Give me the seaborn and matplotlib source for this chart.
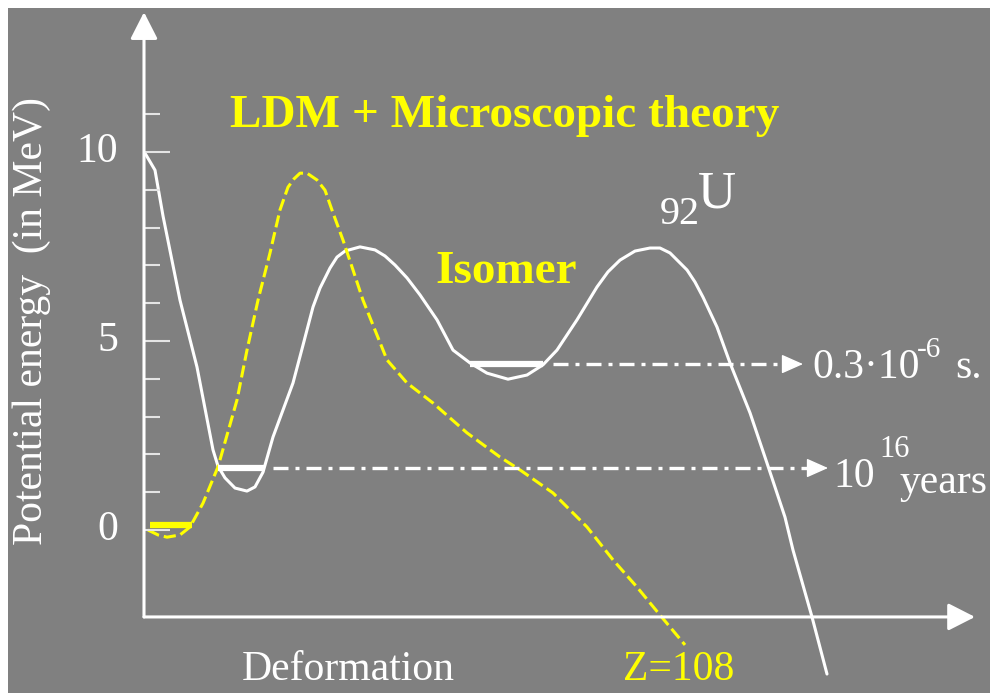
import matplotlib
matplotlib.use('Agg')
import pandas as pd
import matplotlib.pyplot as plt
import seaborn as sns

BG = '#808080'
YELLOW = '#ffff00'
WHITE = '#ffffff'
TICK_GREY = '#e4e4e4'

# 92U fission barrier: deformation (arb. units) vs potential energy (MeV)
u92_x = [0.01, 0.11, 0.19, 0.36, 0.53, 0.69, 0.74, 0.81, 0.91, 1.03, 1.11, 1.19,
         1.29, 1.49, 1.59, 1.69, 1.76, 1.86, 1.93, 2.01, 2.16, 2.31, 2.41, 2.51,
         2.63, 2.76, 2.93, 3.09, 3.26, 3.43, 3.64, 3.83, 3.99, 4.13, 4.33, 4.53,
         4.64, 4.76, 4.91, 5.06, 5.16, 5.26, 5.43, 5.51, 5.59, 5.73, 5.86, 6.06,
         6.23, 6.41, 6.49, 6.68, 6.83]
u92_y = [9.97, 9.52, 8.31, 6.08, 4.31, 2.12, 1.69, 1.38, 1.11, 1.03, 1.14, 1.53,
         2.46, 3.89, 4.89, 5.90, 6.40, 6.93, 7.22, 7.38, 7.49, 7.41, 7.25, 7.01,
         6.67, 6.22, 5.56, 4.76, 4.42, 4.15, 3.99, 4.10, 4.37, 4.76, 5.56, 6.43,
         6.83, 7.14, 7.38, 7.46, 7.46, 7.33, 6.88, 6.56, 6.16, 5.37, 4.42, 3.10,
         1.77, 0.34, -0.53, -2.30, -3.81]

# Z=108 (LDM + microscopic theory)
z108_x = [0.04, 0.14, 0.23, 0.36, 0.46, 0.59, 0.74, 0.93, 1.03, 1.14, 1.26, 1.36,
          1.44, 1.50, 1.56, 1.63, 1.73, 1.81, 1.89, 1.99, 2.09, 2.19, 2.43, 2.63,
          2.89, 3.23, 3.56, 3.76, 4.09, 4.43, 4.69, 4.93, 5.16, 5.41]
z108_y = [0.00, -0.13, -0.19, -0.13, 0.08, 0.71, 1.67, 3.44, 4.76, 6.08, 7.33, 8.47,
          9.07, 9.29, 9.44, 9.44, 9.26, 8.99, 8.39, 7.67, 6.88, 6.08, 4.50, 3.89,
          3.36, 2.57, 1.93, 1.59, 0.98, 0.08, -0.79, -1.51, -2.25, -3.04]

# energy axis ticks
energy_ticks = list(range(0, 12))
energy_major = [0, 5, 10]

# states: energy and horizontal extent
u_ground_e, u_ground_x = 1.64, [0.74, 1.21]
isomer_e, isomer_x = 4.39, [3.26, 3.99]
z_ground_e, z_ground_x = 0.13, [0.06, 0.48]

# half-life arrows (start, tip)
isomer_arrow = [4.09, 6.59]
ground_arrow = [1.29, 6.84]

AXIS_Y0 = -2.30
X_TIP = 8.31
Y_TIP = 13.70

sns.set_theme(style="white")
plt.rcParams['font.family'] = ['Liberation Serif', 'DejaVu Serif']

fig = plt.figure(figsize=(9.9, 6.93), dpi=100, facecolor='white')
ax = fig.add_axes([8 / 990, 0, 982 / 990, 685 / 693])
ax.set_facecolor(BG)
ax.set_xlim(-1.36, 8.46)
ax.set_ylim(-4.312, 13.81)
ax.set_xticks([])
ax.set_yticks([])
for s in ax.spines.values():
    s.set_visible(False)

u_df = pd.DataFrame({'deformation': u92_x, 'energy': u92_y})
z_df = pd.DataFrame({'deformation': z108_x, 'energy': z108_y})

sns.lineplot(data=u_df, x='deformation', y='energy', sort=False, estimator=None,
             color=WHITE, lw=2.2, ax=ax)
sns.lineplot(data=z_df, x='deformation', y='energy', sort=False, estimator=None,
             color=YELLOW, lw=2.2, linestyle=(0, (4, 1.6)), ax=ax)

# levels
ax.hlines(u_ground_e, *u_ground_x, color=WHITE, lw=4.5, zorder=4)
ax.hlines(isomer_e, *isomer_x, color=WHITE, lw=4.5, zorder=4)
ax.hlines(z_ground_e, *z_ground_x, color=YELLOW, lw=4.5, zorder=4)

# dash-dot lifetimes with arrow heads
head = dict(arrowstyle='-|>,head_length=0.45,head_width=0.2', color=WHITE,
            lw=1, mutation_scale=30, shrinkA=0, shrinkB=0)
for e, (x0, x1) in [(isomer_e, isomer_arrow), (u_ground_e, ground_arrow)]:
    ax.plot([x0, x1 - 0.15], [e, e], color=WHITE, lw=2.4,
            linestyle=(0, (4.5, 2.1, 1.2, 2.1)), zorder=3)
    ax.annotate('', xy=(x1, e), xytext=(x1 - 0.2, e), arrowprops=head, zorder=5)

# energy axis ticks (drawn inward)
for t in energy_ticks:
    length = 0.26 if t in energy_major else 0.16
    ax.plot([0, length], [t, t], color=TICK_GREY, lw=1.5, zorder=2,
            solid_capstyle='butt')
for t in energy_major:
    ax.text(-0.26, t, str(t), color=WHITE, fontsize=30, ha='right', va='center')

# axes with arrows
axis_arrow = dict(arrowstyle='-|>,head_length=0.55,head_width=0.28', color=WHITE,
                  lw=2.2, mutation_scale=30, shrinkA=0, shrinkB=0)
ax.annotate('', xy=(X_TIP, AXIS_Y0), xytext=(0, AXIS_Y0), arrowprops=axis_arrow)
ax.annotate('', xy=(0, Y_TIP), xytext=(0, AXIS_Y0), arrowprops=axis_arrow)

# labels
ax.text(-1.12, 5.53, 'Potential energy  (in MeV)', color=WHITE, fontsize=30,
        rotation=90, ha='center', va='center')
ax.text(0.98, -3.98, 'Deformation', color=WHITE, fontsize=30, va='baseline')
ax.text(4.79, -3.98, 'Z=108', color=YELLOW, fontsize=30, va='baseline')

ax.text(0.86, 10.66, 'LDM + Microscopic theory', color=YELLOW, fontsize=34,
        fontweight='bold', va='baseline')
ax.text(2.91, 6.53, 'Isomer', color=YELLOW, fontsize=34, fontweight='bold',
        va='baseline')

ax.text(5.16, 8.10, '92', color=WHITE, fontsize=29, va='baseline')
ax.text(5.54, 8.52, 'U', color=WHITE, fontsize=38, va='baseline')

ax.text(6.68, 4.02, '0.3\u00b710', color=WHITE, fontsize=30, va='baseline')
ax.text(7.73, 4.58, '-6', color=WHITE, fontsize=21, va='baseline')
ax.text(8.11, 4.02, 's.', color=WHITE, fontsize=30, va='baseline')

ax.text(6.89, 1.14, '10', color=WHITE, fontsize=30, va='baseline')
ax.text(7.35, 1.93, '16', color=WHITE, fontsize=22, va='baseline')
ax.text(7.56, 0.98, 'years', color=WHITE, fontsize=30, va='baseline')

fig.savefig('out.png', dpi=100, facecolor=fig.get_facecolor())
